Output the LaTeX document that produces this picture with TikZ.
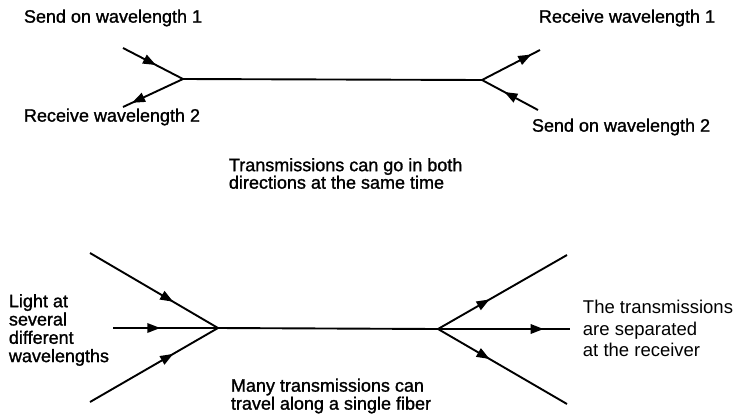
\documentclass[tikz,border=0pt]{standalone}
\usepackage{fontspec}
\setmainfont{Liberation Sans}
\newfontfamily\heavyfont[BoldFont={Liberation Sans},BoldFeatures={FakeBold=1.3}]{Liberation Sans}
\usetikzlibrary{arrows.meta,decorations.markings}

\begin{document}
\begin{tikzpicture}[x=1pt,y=-1pt,line width=1.9pt,
  fib/.style={postaction={decorate},decoration={markings,
    mark=at position #1 with {\arrow{Triangle[length=13pt,width=9.5pt]}}}},
  lbl/.style={anchor=west,inner sep=0pt,align=left,font=\fontsize{18}{17.5}\heavyfont\bfseries},
  note/.style={anchor=west,inner sep=0pt,align=left,font=\fontsize{18.5}{21.5}\selectfont}]
\useasboundingbox(0,0)rectangle(735,413);
\coordinate(tl)at(183,79);
\coordinate(tr)at(482,80);
\coordinate(s1)at(123,48);
\coordinate(r2)at(123,107);
\coordinate(r1)at(540,50);
\coordinate(s2)at(538,110);
\draw(tl)--(tr);
\draw[fib=.55](s1)--(tl);
\draw[fib=.85](tl)--(r2);
\draw[fib=.85](tr)--(r1);
\draw[fib=.6](s2)--(tr);
\node[lbl](ls1)at(23,18){Send on wavelength 1};
\node[lbl](lr2)at(23,117){Receive wavelength 2};
\node[lbl](lr1)at(538,18){Receive wavelength 1};
\node[lbl](ls2)at(531,127){Send on wavelength 2};
\node[lbl](both)at(228,173.5){Transmissions can go in both\\directions at the same time};
\coordinate(bl)at(218,328);
\coordinate(br)at(438,329);
\coordinate(ia)at(90,253);
\coordinate(ib)at(113,328);
\coordinate(ic)at(90,402);
\coordinate(oa)at(567,255);
\coordinate(ob)at(570,329);
\coordinate(oc)at(567,404);
\draw(bl)--(br);
\draw[fib=.65](ia)--(bl);
\draw[fib=.45](ib)--(bl);
\draw[fib=.65](ic)--(bl);
\draw[fib=.4](br)--(oa);
\draw[fib=.8](br)--(ob);
\draw[fib=.4](br)--(oc);
\node[lbl,font=\fontsize{18}{18.3}\heavyfont\bfseries](light)at(8,330){Light at\\several\\different\\wavelengths};
\node[lbl,font=\fontsize{18}{18}\heavyfont\bfseries](many)at(230,396){Many transmissions can\\travel along a single fiber};
\node[note](sep)at(582,328.5){The transmissions\\are separated\\at the receiver};
\end{tikzpicture}
\end{document}
